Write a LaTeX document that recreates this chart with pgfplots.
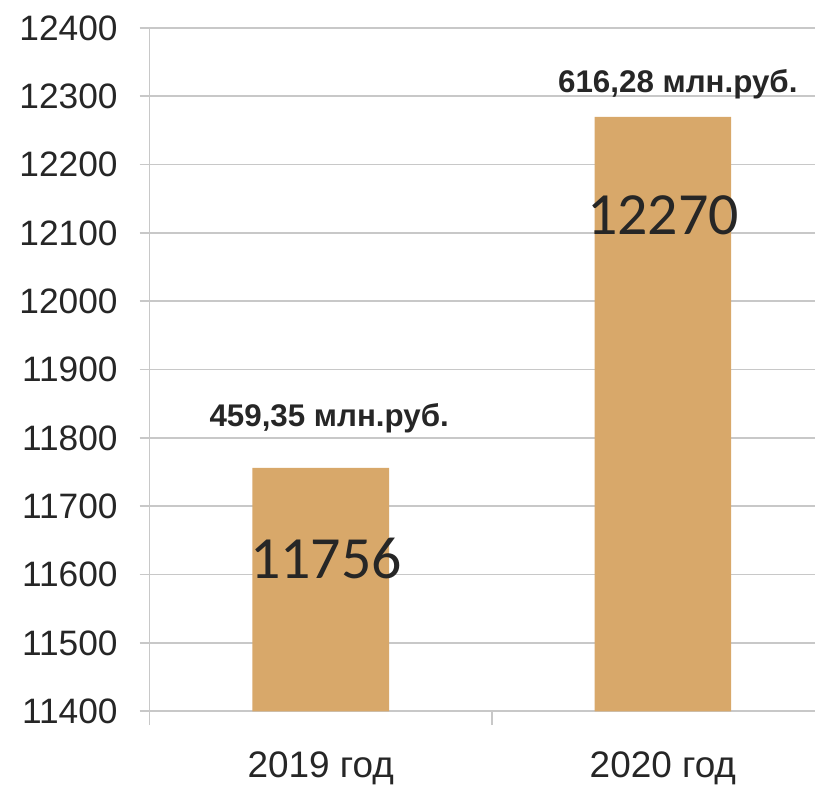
\documentclass[border=0pt]{standalone}
\usepackage{fontspec}
\setmainfont{Liberation Sans}
\newfontfamily\calfont{Carlito}
\usepackage{pgfplots}
\pgfplotsset{compat=1.18}
\definecolor{barc}{HTML}{D8A86A}
\definecolor{gridc}{HTML}{C8C8C8}
\definecolor{txt}{HTML}{262626}
\begin{document}
\begin{tikzpicture}
\begin{axis}[
  scale only axis,
  width=333.5pt, height=342.5pt,
  xmin=-0.5, xmax=1.4446,
  ymin=11400, ymax=12400,
  ytick={11400,11500,11600,11700,11800,11900,12000,12100,12200,12300,12400},
  yticklabels={11400,11500,11600,11700,11800,11900,12000,12100,12200,12300,12400},
  scaled y ticks=false,
  xtick={0,1},
  xticklabels={2019 год, 2020 год},
  minor xtick={-0.5,0.5},
  axis x line=bottom, axis y line=left,
  axis line style={draw=gridc, line width=0.8pt, -},
  ymajorgrids, grid style={draw=gridc, line width=0.8pt},
  tick align=outside,
  major tick length=5pt, minor tick length=7pt,
  xtick style={draw=none},
  ytick style={draw=gridc, line width=0.8pt},
  minor x tick style={draw=gridc, line width=0.8pt},
  x tick label style={font=\fontsize{18.5}{20}\selectfont, text=txt, yshift=-12pt},
  y tick label style={font=\fontsize{17.7}{20}\selectfont, text=txt, xshift=-7.5pt},
  ybar, bar width=68.5pt,
  clip=false,
]
\addplot[fill=barc, draw=none] coordinates {(0,11756) (1,12270)};
\node[anchor=base, text=txt, font=\calfont\fontsize{30}{30}\selectfont] at (axis cs:0.015,11594) {11756};
\node[anchor=base, text=txt, font=\calfont\fontsize{30}{30}\selectfont] at (axis cs:1,12098) {12270};
\node[anchor=base, text=txt, font=\bfseries\fontsize{15.7}{18}\selectfont] at (axis cs:0.0248,11817) {459,35 млн.руб.};
\node[anchor=base, text=txt, font=\bfseries\fontsize{15.7}{18}\selectfont] at (axis cs:1.0437,12305) {616,28 млн.руб.};
\end{axis}
\pgfresetboundingbox
\path[use as bounding box] ([shift={(-75pt,-38.5pt)}]current axis.south west) rectangle ([shift={(1pt,14pt)}]current axis.north east);
\end{tikzpicture}
\end{document}
